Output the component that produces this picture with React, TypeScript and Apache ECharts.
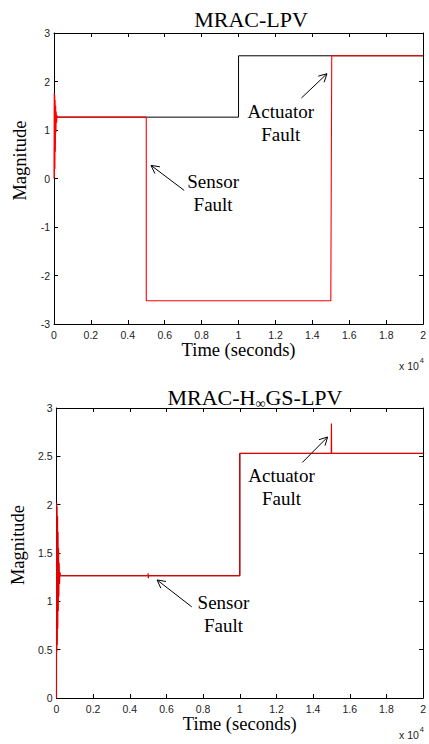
import React, { useEffect, useRef } from 'react';
import * as echarts from 'echarts';

// Time axis (seconds) and tick labels (shown scaled by 10^4)
const timeMin = 0;
const timeMax = 20000;
const timeStep = 2000;

// Reference signal (black) — shared by both panels
const refT = [0, 10000, 10000, 20000];
const refY = [1.265, 1.265, 2.53, 2.53];

// MRAC-LPV response (red)
const lpvT = [0, 12, 25, 38, 50, 62, 75, 90, 105, 120, 140, 165, 200, 5000, 5000, 15000, 15050, 20000];
const lpvY = [0, 1.75, 0.02, 1.72, 0.2, 1.62, 0.55, 1.5, 0.95, 1.38, 1.15, 1.3, 1.265, 1.265, -2.52, -2.52, 2.53, 2.53];

// MRAC-H∞GS-LPV response (red)
const hinfT = [0, 10, 20, 32, 45, 58, 70, 84, 98, 112, 128, 145, 165, 190, 220, 4990, 5000, 5010, 5020, 10000, 10000, 14990, 15000, 15010, 15030, 20000];
const hinfY = [0, 2.02, 0.48, 1.98, 0.55, 1.88, 0.72, 1.72, 0.9, 1.55, 1.05, 1.4, 1.18, 1.3, 1.265, 1.265, 1.29, 1.24, 1.265, 1.265, 2.53, 2.53, 2.84, 2.53, 2.53, 2.53];

// Annotations: series index, label, label centre, arrow start, arrow tip (data coordinates)
const annoSeries = [1, 1, 3, 3];
const annoText = ['Actuator\nFault', 'Sensor\nFault', 'Actuator\nFault', 'Sensor\nFault'];
const annoTextAt = [[12291, 1.15], [8621, -0.3], [12275, 2.18], [9107, 0.865]];
const annoFrom = [[13409, 1.66], [7055, -0.245], [13409, 2.436], [7379, 0.943]];
const annoTo = [[14791, 2.16], [5258, 0.27], [14791, 2.7], [5490, 1.221]];

const zip = (t: number[], y: number[]) => t.map((v, i) => [v, y[i]]);

const serif = '"Liberation Serif", "Times New Roman", serif';
const sans = '"Liberation Sans", Arial, sans-serif';

function xAxes(grid: number) {
  const base = {
    type: 'value' as const,
    gridIndex: grid,
    min: timeMin,
    max: timeMax,
    interval: timeStep,
    axisLine: { onZero: false, lineStyle: { color: '#000', width: 1 } },
    axisTick: { inside: true, length: 4, lineStyle: { color: '#000' } },
    splitLine: { show: false },
  };
  return [
    {
      ...base,
      position: 'bottom',
      axisLabel: {
        formatter: (v: number) => String(v / 10000),
        fontFamily: sans,
        fontSize: 10.5,
        color: '#222',
        margin: 5,
        showMinLabel: true,
        showMaxLabel: true,
      },
      name: 'Time (seconds)',
      nameLocation: 'middle',
      nameGap: 16,
      nameTextStyle: { fontFamily: serif, fontSize: 18.5, color: '#000' },
    },
    { ...base, position: 'top', axisLabel: { show: false } },
  ];
}

function yAxes(grid: number, min: number, max: number, interval: number, pad: number) {
  const base = {
    type: 'value' as const,
    gridIndex: grid,
    min,
    max,
    interval,
    axisLine: { onZero: false, lineStyle: { color: '#000', width: 1 } },
    axisTick: { inside: true, length: 4, lineStyle: { color: '#000' } },
    splitLine: { show: false },
  };
  return [
    {
      ...base,
      position: 'left',
      axisLabel: { fontFamily: sans, fontSize: 10.5, color: '#222', margin: 4, showMinLabel: true, showMaxLabel: true },
      name: 'Magnitude',
      nameLocation: 'middle',
      nameGap: 20,
      nameTextStyle: { fontFamily: serif, fontSize: 18.5, color: '#000', padding: [0, 0, 0, pad] },
    },
    { ...base, position: 'right', axisLabel: { show: false } },
  ];
}

export default function App() {
  const ref = useRef<HTMLDivElement>(null);

  useEffect(() => {
    if (!ref.current) return;
    const chart = echarts.init(ref.current, null, { renderer: 'svg' });
    const titles: any[] = [
      {
        text: 'MRAC-LPV',
        left: 246,
        top: 3,
        textAlign: 'center',
        textStyle: { fontFamily: serif, fontSize: 22, fontWeight: 'normal', color: '#000' },
      },
      {
        text: '{a|MRAC-H}{s|∞}{a|GS-LPV}',
        left: 250,
        top: 379,
        textAlign: 'center',
        textStyle: {
          fontFamily: serif,
          fontSize: 22,
          fontWeight: 'normal',
          color: '#000',
          rich: {
            a: { fontFamily: serif, fontSize: 22, color: '#000' },
            s: { fontFamily: serif, fontSize: 14, color: '#000', padding: [12, 0, 0, 0] },
          },
        },
      },
    ];
    const option: any = {
      animation: false,
      backgroundColor: '#fff',
      title: titles,
      grid: [
        { left: 54, top: 33, width: 370, height: 291, containLabel: false },
        { left: 54, top: 408, width: 370, height: 290, containLabel: false },
      ],
      xAxis: [...xAxes(0), ...xAxes(1)],
      yAxis: [...yAxes(0, -3, 3, 1, 36), ...yAxes(1, 0, 3, 0.5, 16)],
      series: [
        {
          type: 'line', xAxisIndex: 0, yAxisIndex: 0, data: zip(refT, refY), showSymbol: false,
          lineStyle: { color: '#000', width: 1 }, z: 2,
        },
        {
          type: 'line', xAxisIndex: 0, yAxisIndex: 0, data: zip(lpvT, lpvY), showSymbol: false,
          lineStyle: { color: '#ff0000', width: 1.1 }, z: 3,
        },
        {
          type: 'line', xAxisIndex: 2, yAxisIndex: 2, data: zip(refT, refY), showSymbol: false,
          lineStyle: { color: '#000', width: 1 }, z: 2,
        },
        {
          type: 'line', xAxisIndex: 2, yAxisIndex: 2, data: zip(hinfT, hinfY), showSymbol: false,
          lineStyle: { color: '#e00000', width: 1.2 }, z: 3,
        },
      ],
    };
    chart.setOption(option);

    const graphic: any[] = [];
    const annoTitles: any[] = [];
    for (let i = 0; i < annoText.length; i++) {
      const s = annoSeries[i];
      const tp = chart.convertToPixel({ seriesIndex: s }, annoTextAt[i]) as number[];
      const a = chart.convertToPixel({ seriesIndex: s }, annoFrom[i]) as number[];
      const b = chart.convertToPixel({ seriesIndex: s }, annoTo[i]) as number[];
      annoTitles.push({
        text: annoText[i],
        left: tp[0],
        top: tp[1] - 23,
        padding: 0,
        textAlign: 'center',
        textStyle: { fontFamily: serif, fontSize: 19, fontWeight: 'normal', lineHeight: 23, color: '#000' },
        z: 10,
      });
      graphic.push({
        type: 'line',
        shape: { x1: a[0], y1: a[1], x2: b[0], y2: b[1] },
        style: { stroke: '#000', lineWidth: 1 },
        z: 10,
      });
      const ang = Math.atan2(b[1] - a[1], b[0] - a[0]);
      const L = 9;
      const th = (28 * Math.PI) / 180;
      graphic.push({
        type: 'polyline',
        shape: {
          points: [
            [b[0] - L * Math.cos(ang - th), b[1] - L * Math.sin(ang - th)],
            [b[0], b[1]],
            [b[0] - L * Math.cos(ang + th), b[1] - L * Math.sin(ang + th)],
          ],
        },
        style: { stroke: '#000', lineWidth: 1, fill: null },
        z: 10,
      });
    }
    // x 10^4 exponent labels under each time axis
    [0, 1].forEach((k) => {
      const yTopPx = k === 0 ? 355 : 724;
      graphic.push({
        type: 'text',
        x: 399,
        y: yTopPx,
        style: {
          text: '{a|x 10}{b|4}',
          rich: {
            a: { fontFamily: sans, fontSize: 10.5, fill: '#222', padding: [5, 0, 0, 0] },
            b: { fontFamily: sans, fontSize: 7.5, fill: '#222', padding: [0, 0, 6, 1] },
          },
        },
        z: 10,
      });
    });
    chart.setOption({ title: [...titles, ...annoTitles], graphic });

    return () => chart.dispose();
  }, []);

  return (
    <div
      ref={ref}
      style={{ position: 'fixed', left: 0, top: 0, width: 429, height: 744, background: '#fff' }}
    />
  );
}
